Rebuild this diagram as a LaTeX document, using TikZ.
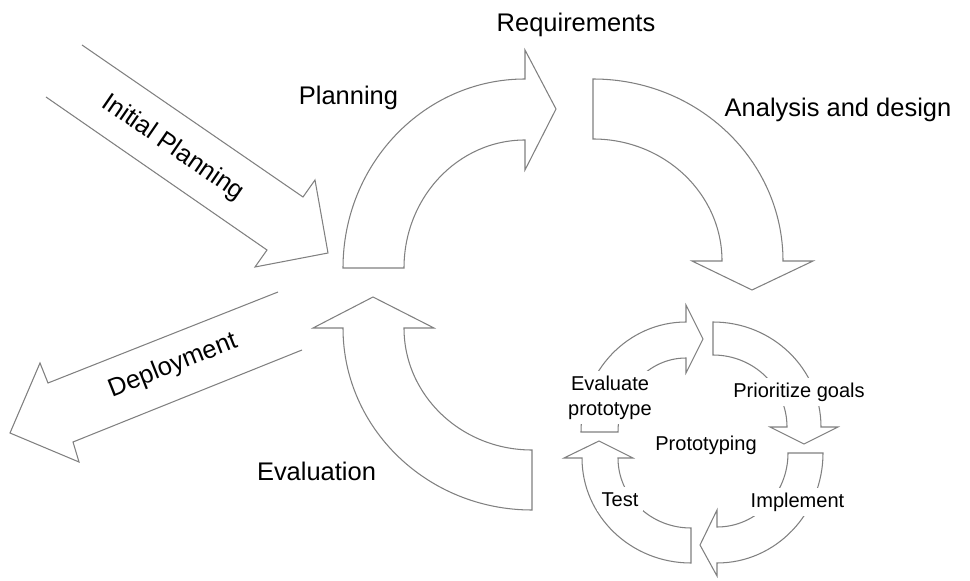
\documentclass[tikz,border=0pt]{standalone}
\usepackage{fontspec}
\setmainfont{Liberation Sans}

\begin{document}
\begin{tikzpicture}[
    blockarrow/.style={draw=gray, line width=0.6pt, fill=white},
    phaselabel/.style={font=\fontsize{14.5}{17}\selectfont},
    steplabel/.style={font=\fontsize{11.4}{14.2}\selectfont, fill=white, inner sep=2.8pt}]
  \useasboundingbox (0,0) rectangle (19.4,11.6);
  % straight arrows in and out
  \draw[blockarrow, fill=none] (1.64,10.7) -- (6.06,7.66) -- (6.3,8.0) -- (6.56,6.54) -- (5.1,6.26) -- (5.34,6.6) -- (0.92,9.66);
  \draw[blockarrow, fill=none] (5.56,5.76) -- (0.96,3.94) -- (0.8,4.34) -- (0.2,2.94) -- (1.58,2.36) -- (1.46,2.76) -- (6.04,4.6);
  % big cycle
  \draw[blockarrow] (6.86,6.24) arc[start angle=180, end angle=90, x radius=3.64, y radius=3.78] -- (10.5,10.6) -- (11.12,9.42) -- (10.5,8.2) -- (10.5,8.8) arc[start angle=90, end angle=180, x radius=2.42, y radius=2.56] -- cycle;
  \draw[blockarrow] (11.86,10.02) arc[start angle=90, end angle=0, x radius=3.8, y radius=3.64] -- (16.26,6.38) -- (15.04,5.8) -- (13.84,6.38) -- (14.44,6.38) arc[start angle=0, end angle=90, x radius=2.58, y radius=2.44] -- cycle;
  \draw[blockarrow] (10.64,1.4) arc[start angle=270, end angle=180, x radius=3.78, y radius=3.64] -- (6.26,5.04) -- (7.46,5.66) -- (8.68,5.04) -- (8.08,5.04) arc[start angle=180, end angle=270, x radius=2.56, y radius=2.44] -- cycle;
  % small cycle
  \draw[blockarrow] (11.62,2.96) arc[start angle=180, end angle=90, x radius=2.1, y radius=2.2] -- (13.72,5.5) -- (14.06,4.82) -- (13.72,4.14) -- (13.72,4.44) arc[start angle=90, end angle=180, x radius=1.36, y radius=1.48] -- cycle;
  \draw[blockarrow] (14.26,5.16) arc[start angle=90, end angle=0, x radius=2.16, y radius=2.1] -- (16.76,3.06) -- (16.08,2.72) -- (15.4,3.06) -- (15.74,3.06) arc[start angle=0, end angle=90, x radius=1.48, y radius=1.44] -- cycle;
  \draw[blockarrow] (16.46,2.54) arc[start angle=0, end angle=-90, x radius=2.12, y radius=2.2] -- (14.34,0.08) -- (14.0,0.7) -- (14.34,1.4) -- (14.34,1.06) arc[start angle=-90, end angle=0, x radius=1.42, y radius=1.48] -- cycle;
  \draw[blockarrow] (13.82,0.34) arc[start angle=270, end angle=180, x radius=2.18, y radius=2.1] -- (11.28,2.44) -- (11.98,2.78) -- (12.66,2.44) -- (12.36,2.44) arc[start angle=180, end angle=270, x radius=1.46, y radius=1.4] -- cycle;
  % labels
  \node[phaselabel, anchor=base] (req) at (11.52,10.96) {Requirements};
  \node[phaselabel, anchor=base] (plan) at (6.97,9.5) {Planning};
  \node[phaselabel, anchor=base] (anl) at (16.76,9.26) {Analysis and design};
  \node[phaselabel, anchor=base] (eval) at (6.33,2.0) {Evaluation};
  \node[phaselabel, rotate=-34.5] (init) at (3.46,8.64) {Initial Planning};
  \node[phaselabel, rotate=21.6] (dep) at (3.46,4.28) {Deployment};
  \node[steplabel, align=center] (evp) at (12.2,3.65) {Evaluate\\prototype};
  \node[steplabel, anchor=base] (prio) at (15.98,3.66) {Prioritize goals};
  \node[steplabel, anchor=base, fill=none] (proto) at (14.12,2.6) {Prototyping};
  \node[steplabel, anchor=base] (impl) at (15.95,1.46) {Implement};
  \node[steplabel, anchor=base] (test) at (12.4,1.48) {Test};
\end{tikzpicture}
\end{document}
